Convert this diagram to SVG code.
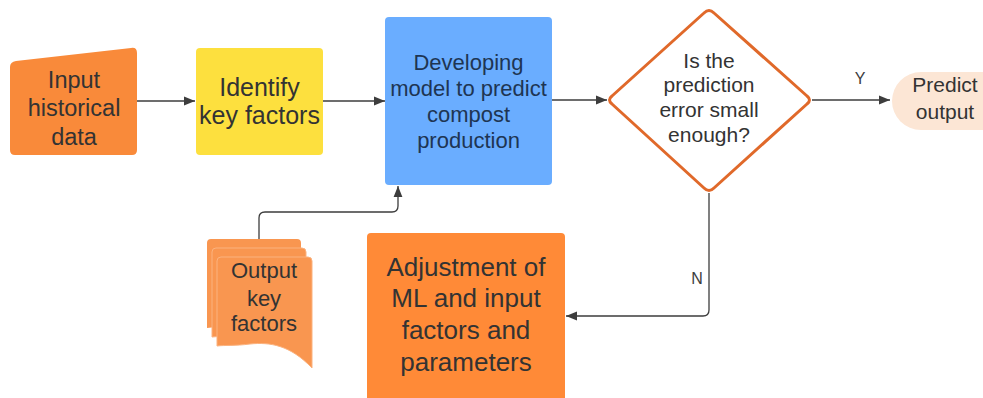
<svg xmlns="http://www.w3.org/2000/svg" width="983" height="398" viewBox="0 0 983 398">
  <style>
    text { font-family: "Liberation Sans", Arial, sans-serif; text-anchor: middle; fill: #333333; }
    .conn { fill: none; stroke: #3d3d3d; stroke-width: 1.3; }
    .lbl { font-size: 16px; fill: #3d3d3d; }
  </style>
  <defs>
    <marker id="arrow" viewBox="0 0 10 10" refX="10" refY="5" markerWidth="11" markerHeight="11" markerUnits="userSpaceOnUse" orient="auto">
      <path d="M0,1 L10,5 L0,9 Z" fill="#3d3d3d"/>
    </marker>
  </defs>

  <rect width="983" height="398" fill="#ffffff"/>

  <!-- connectors -->
  <g id="connectors">
    <path class="conn" d="M137,101 H195" marker-end="url(#arrow)"/>
    <path class="conn" d="M323,101 H385" marker-end="url(#arrow)"/>
    <path class="conn" d="M552,100 H607" marker-end="url(#arrow)"/>
    <path class="conn" d="M812,100 H890" marker-end="url(#arrow)"/>
    <path class="conn" d="M259,239 V218 Q259,212 265,212 H392 Q398,212 398,206 V186" marker-end="url(#arrow)"/>
    <path class="conn" d="M709,193 V310 Q709,316 703,316 H566" marker-end="url(#arrow)"/>
    <text class="lbl" x="860" y="84">Y</text>
    <text class="lbl" x="697" y="284">N</text>
  </g>

  <!-- manual input -->
  <g id="input-data">
    <path d="M16,61 L131,48 Q137,47 137,53 V150 Q137,155 132,155 H15 Q10,155 10,150 V67 Q10,62 16,61 Z" fill="#F98A3A"/>
    <text font-size="23.5"><tspan x="74" y="88">Input</tspan><tspan x="74" y="116">historical</tspan><tspan x="74" y="145">data</tspan></text>
  </g>

  <g id="identify-factors">
    <rect x="196" y="48" width="127" height="107" rx="4" fill="#FDE03E"/>
    <text font-size="25"><tspan x="259.5" y="96">Identify</tspan><tspan x="259.5" y="124">key factors</tspan></text>
  </g>

  <g id="develop-model">
    <rect x="385" y="17" width="167" height="168" rx="4" fill="#6AADFF"/>
    <text font-size="22" style="fill:#1E3553"><tspan x="468.5" y="70">Developing</tspan><tspan x="468.5" y="96">model to predict</tspan><tspan x="468.5" y="122">compost</tspan><tspan x="468.5" y="148">production</tspan></text>
  </g>

  <g id="error-check">
    <path d="M612,104 Q607,100 612,96 L704,13 Q709,8 714,13 L807,96 Q812,100 807,104 L714,188 Q709,193 704,188 Z" fill="#ffffff" stroke="#E0692A" stroke-width="3" stroke-linejoin="round"/>
    <text font-size="21"><tspan x="709" y="68">Is the</tspan><tspan x="709" y="92">prediction</tspan><tspan x="709" y="117">error small</tspan><tspan x="709" y="142">enough?</tspan></text>
  </g>

  <g id="predict-output">
    <rect x="892" y="72" width="130" height="58" rx="29" fill="#FCE6D5"/>
    <text font-size="21"><tspan x="945" y="92">Predict</tspan><tspan x="945" y="119">output</tspan></text>
  </g>

  <g id="output-factors">
    <path d="M207,243 Q207,239 211,239 H297 Q301,239 301,243 V335 Q260,320 207,328 Z" fill="#F99650"/>
    <path d="M212,252 Q212,248 216,248 H302 Q306,248 306,252 V345 Q265,330 212,337 Z" fill="#F99650" stroke="#FBB27E" stroke-width="1"/>
    <path d="M217,261 Q217,257 221,257 H308 Q312,257 312,261 V368 C290,345 270,342 250,344 C235,346 225,345 217,346 Z" fill="#F99650" stroke="#FBB27E" stroke-width="1"/>
    <text font-size="22"><tspan x="264" y="278">Output</tspan><tspan x="264" y="306">key</tspan><tspan x="264" y="331">factors</tspan></text>
  </g>

  <g id="adjust-model">
    <rect x="367" y="233" width="198" height="175" rx="4" fill="#FF8A37"/>
    <text font-size="26"><tspan x="466" y="276">Adjustment of</tspan><tspan x="466" y="307">ML and input</tspan><tspan x="466" y="339">factors and</tspan><tspan x="466" y="371">parameters</tspan></text>
  </g>
</svg>
